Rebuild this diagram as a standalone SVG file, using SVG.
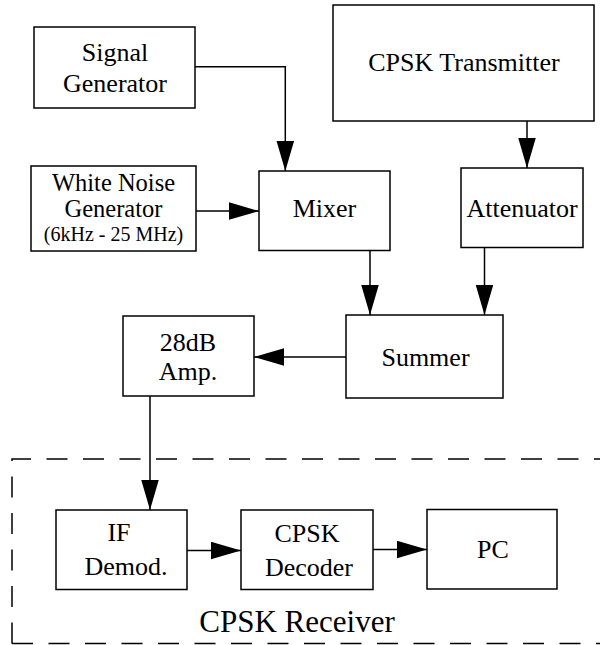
<svg xmlns="http://www.w3.org/2000/svg" width="600" height="645" viewBox="0 0 600 645">
  <style>
    .box { fill: #ffffff; stroke: #000000; stroke-width: 1.5; }
    text { font-family: 'Liberation Serif', 'DejaVu Serif', serif; font-size: 26px; fill: #000000; text-anchor: middle; }
    .small { font-size: 20px; }
    .mid { font-size: 24.5px; }
    .big { font-size: 31px; }
    .wire { fill: none; stroke: #000000; stroke-width: 1.5; }
    .group { fill: none; stroke: #000000; stroke-width: 1.5; stroke-dasharray: 21 15.5; }
  </style>
  <defs>
    <marker id="arrow" markerUnits="userSpaceOnUse" markerWidth="31" markerHeight="18" refX="30" refY="8.75" orient="auto">
      <path d="M0,0 L30,8.75 L0,17.5 Z" fill="#000000"/>
    </marker>
  </defs>

  <rect width="600" height="645" fill="#ffffff"/>

  <!-- receiver enclosure -->
  <g id="receiver-group">
    <path class="group" d="M12,643.5 V459 H600 M12,643.5 H600"/>
    <text class="big" x="297" y="632" font-family="Liberation Serif, serif">CPSK Receiver</text>
  </g>

  <!-- connectors -->
  <g id="connectors">
    <path class="wire" d="M195,66.7 H285.3 V171" marker-end="url(#arrow)"/>
    <path class="wire" d="M196,211 H259" marker-end="url(#arrow)"/>
    <path class="wire" d="M527,121 V168" marker-end="url(#arrow)"/>
    <path class="wire" d="M370,250.5 V315" marker-end="url(#arrow)"/>
    <path class="wire" d="M484.5,247.5 V315" marker-end="url(#arrow)"/>
    <path class="wire" d="M346,357 H254" marker-end="url(#arrow)"/>
    <path class="wire" d="M150,396 V510" marker-end="url(#arrow)"/>
    <path class="wire" d="M187,550.5 H241" marker-end="url(#arrow)"/>
    <path class="wire" d="M373,549.5 H427" marker-end="url(#arrow)"/>
  </g>

  <!-- blocks -->
  <g id="signal-generator">
    <rect class="box" x="34" y="27" width="161" height="81"/>
    <text x="115" y="61">Signal</text>
    <text x="115" y="92">Generator</text>
  </g>

  <g id="cpsk-transmitter">
    <rect class="box" x="333" y="5" width="261" height="116"/>
    <text x="464" y="71">CPSK Transmitter</text>
  </g>

  <g id="white-noise-generator">
    <rect class="box" x="31" y="166" width="165" height="85"/>
    <text class="mid" x="113.5" y="190.5">White Noise</text>
    <text class="mid" x="113.5" y="217">Generator</text>
    <text class="small" x="113.5" y="240.5">(6kHz - 25 MHz)</text>
  </g>

  <g id="mixer">
    <rect class="box" x="259" y="171" width="131" height="79.5"/>
    <text x="324.5" y="217">Mixer</text>
  </g>

  <g id="attenuator">
    <rect class="box" x="461" y="168" width="122" height="79.5"/>
    <text x="522" y="217">Attenuator</text>
  </g>

  <g id="summer">
    <rect class="box" x="346" y="315" width="157" height="83"/>
    <text x="425.5" y="366">Summer</text>
  </g>

  <g id="amplifier">
    <rect class="box" x="123" y="316" width="131" height="80"/>
    <text x="188" y="351">28dB</text>
    <text x="188" y="380">Amp.</text>
  </g>

  <g id="if-demodulator">
    <rect class="box" x="56" y="510" width="131" height="79.5"/>
    <text x="119" y="541">IF</text>
    <text x="126" y="575">Demod.</text>
  </g>

  <g id="cpsk-decoder">
    <rect class="box" x="241" y="510" width="132" height="79.5"/>
    <text x="307" y="541.5">CPSK</text>
    <text x="309" y="576">Decoder</text>
  </g>

  <g id="pc">
    <rect class="box" x="427" y="509.5" width="130" height="79.5"/>
    <text x="493" y="558">PC</text>
  </g>
</svg>
